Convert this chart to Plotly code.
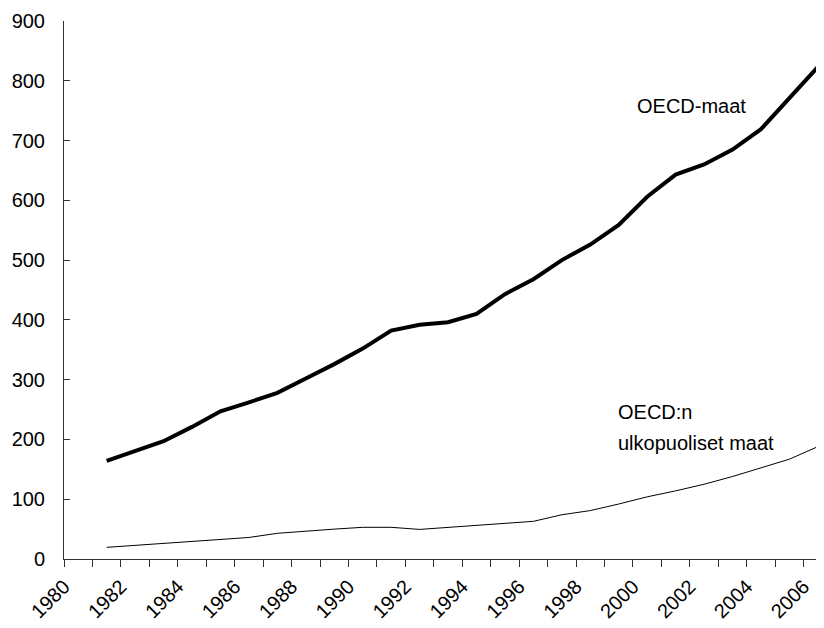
import plotly.graph_objects as go

# Data (years)
years = list(range(1981, 2007))
oecd = [164, 180, 197, 221, 247, 262, 278, 302, 326, 352, 382, 392, 396,
        410, 443, 468, 500, 526, 559, 606, 643, 660, 685, 719, 770, 823]
non_oecd = [19.5, 23, 26.5, 30, 33, 36, 43, 47, 50, 53, 53, 49.5, 53,
            56, 59, 63, 74, 81, 92, 104, 114, 125, 138, 152, 167, 188]
x_tick_labels = [str(y) for y in range(1980, 2007, 2)]
y_tick_vals = list(range(0, 901, 100))

# Values are centred within each year interval on the axis
x_pos = [y + 0.5 for y in years]

FONT = "Liberation Sans, Arial, sans-serif"

fig = go.Figure()
fig.add_trace(go.Scatter(x=x_pos, y=oecd, mode="lines",
                         line=dict(color="black", width=4),
                         name="OECD-maat", showlegend=False))
fig.add_trace(go.Scatter(x=x_pos, y=non_oecd, mode="lines",
                         line=dict(color="black", width=1),
                         name="OECD:n ulkopuoliset maat", showlegend=False))

fig.add_annotation(x=2000.07, y=757, text="OECD-maat", showarrow=False,
                   xanchor="left", yanchor="middle",
                   font=dict(family=FONT, size=20, color="black"))
fig.add_annotation(x=1999.39, y=246, text="OECD:n",
                   showarrow=False, xanchor="left", yanchor="middle",
                   font=dict(family=FONT, size=20, color="black"))
fig.add_annotation(x=1999.39, y=194, text="ulkopuoliset maat",
                   showarrow=False, xanchor="left", yanchor="middle",
                   font=dict(family=FONT, size=20, color="black"))

# The page body has an 8px default margin, so the figure is sized to fit the window
fig.update_layout(
    width=816, height=620,
    margin=dict(l=56, r=1, t=13, b=69),
    paper_bgcolor="white", plot_bgcolor="white",
    font=dict(family=FONT, size=20, color="black"),
    xaxis=dict(
        range=[1980, 2006.68],
        automargin=False,
        tickmode="array",
        tickvals=list(range(1980, 2007, 2)),
        ticktext=x_tick_labels,
        tickangle=-45,
        ticks="outside", ticklen=7, tickcolor="#333", tickwidth=1,
        minor=dict(dtick=1, ticks="outside", ticklen=7, tickcolor="#333", tickwidth=1,
                   showgrid=False),
        showline=True, linecolor="#333", linewidth=1,
        showgrid=False, zeroline=False,
        tickfont=dict(family=FONT, size=20, color="black"),
    ),
    yaxis=dict(
        range=[0, 900],
        automargin=False,
        tickmode="array",
        tickvals=y_tick_vals,
        ticks="inside", ticklen=6, tickcolor="#333", tickwidth=1,
        ticklabelstandoff=14,
        showline=True, linecolor="#333", linewidth=1,
        showgrid=False, zeroline=False,
        tickfont=dict(family=FONT, size=20, color="black"),
    ),
)

fig.write_html("out.html")
